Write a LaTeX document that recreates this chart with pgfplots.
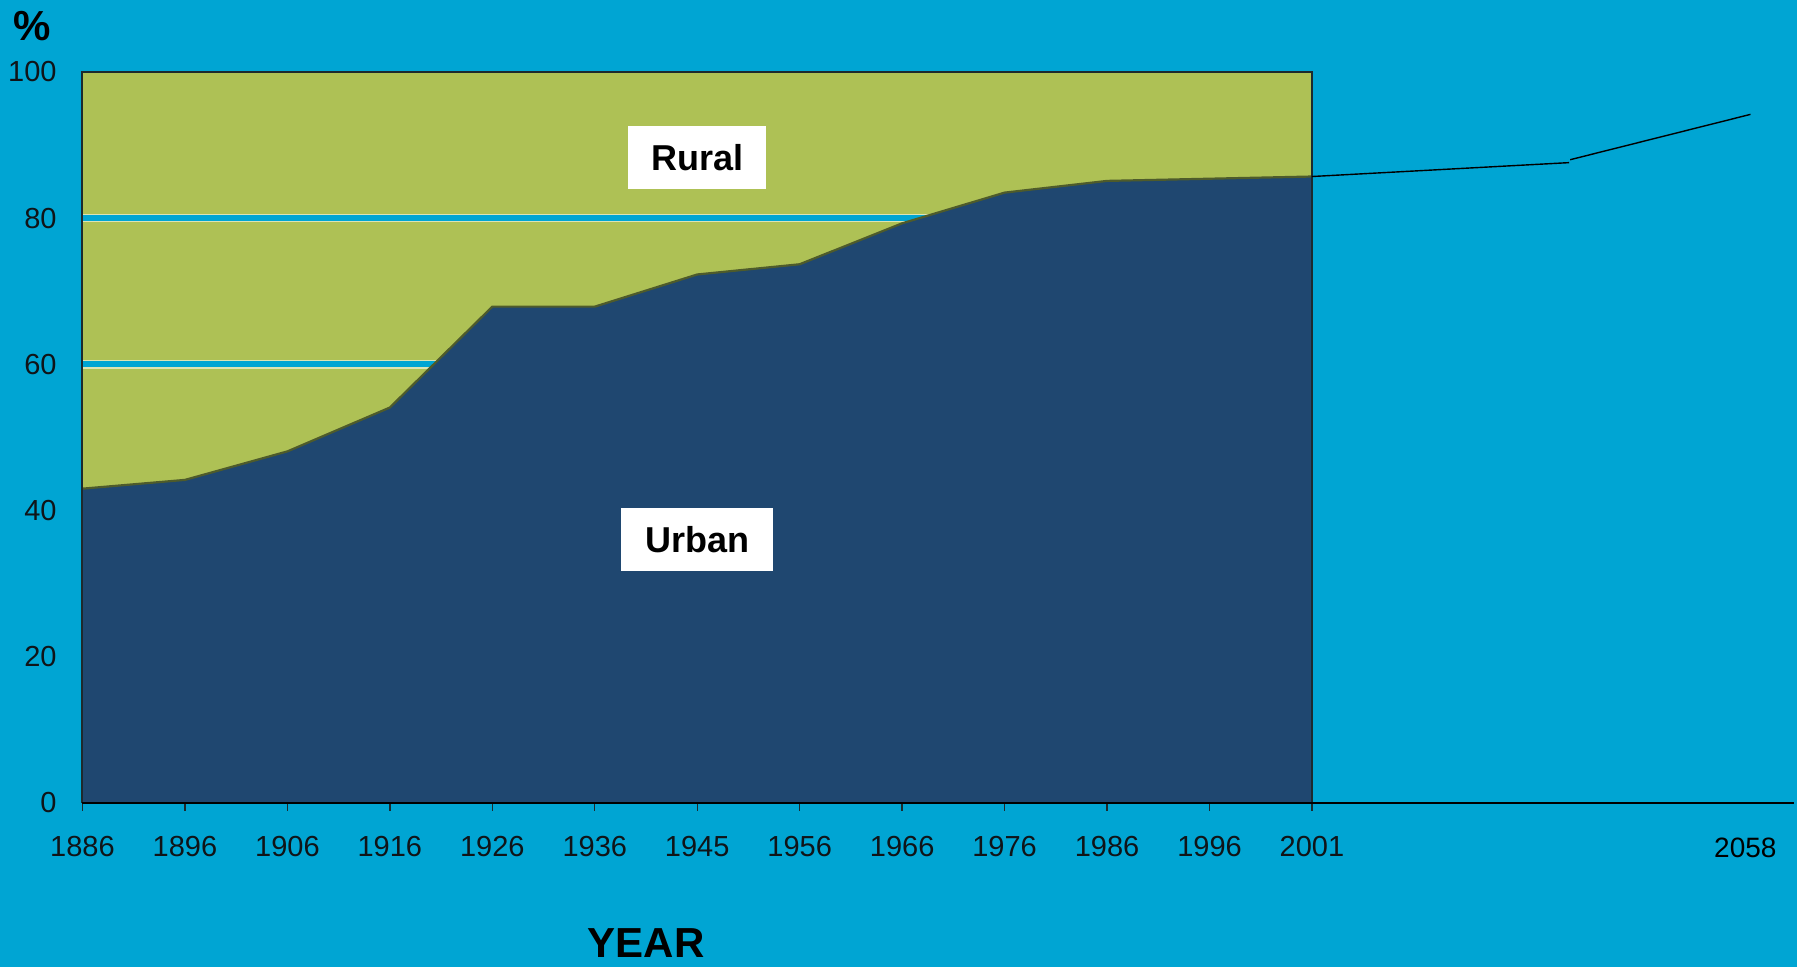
\documentclass[border=0pt]{standalone}
\usepackage{fontspec}
\setmainfont{Liberation Sans}
\usepackage{pgfplots}
\pgfplotsset{compat=1.18}
\usepackage{pgfplotstable}
\definecolor{bgblue}{HTML}{00A5D3}
\definecolor{rural}{HTML}{AEC155}
\definecolor{urban}{HTML}{1F4770}
\definecolor{edge}{HTML}{4E5B2B}
\definecolor{frame}{HTML}{1C2A2E}
\definecolor{gridlight}{HTML}{DCE4B4}
\definecolor{ticktext}{HTML}{101418}

\pgfplotstableread{
x y
0 43.0
1 44.2
2 48.1
3 54.1
4 67.9
5 67.9
6 72.3
7 73.7
8 79.3
9 83.5
10 85.1
11 85.4
12 85.7
}\urbandata

\begin{document}
\begin{tikzpicture}
\fill[bgblue, use as bounding box] (-41.25pt,-82pt) rectangle (857.25pt,401.5pt);
\begin{axis}[
  at={(0pt,0pt)}, anchor=south west,
  scale only axis, width=855.5pt, height=365.5pt,
  xmin=0, xmax=16.7, ymin=0, ymax=100,
  clip=false,
  axis line style={draw=none},
  xtick={0,...,12},
  xticklabels={1886,1896,1906,1916,1926,1936,1945,1956,1966,1976,1986,1996,2001},
  extra x ticks={16.23},
  extra x tick labels={2058},
  extra x tick style={major tick length=0pt, xticklabel style={text=black, yshift=-5pt, font=\fontsize{14}{16}\selectfont}},
  ytick={0,20,...,100},
  xtick pos=bottom, ytick pos=left,
  xtick align=outside,
  major tick length=4pt,
  xtick style={draw=frame, line width=0.7pt},
  ytick style={draw=none},
  tick label style={font=\fontsize{14.5}{17}\selectfont, text=ticktext},
  /pgf/number format/assume math mode=true,
  xticklabel style={anchor=north, inner sep=0pt, yshift=-12.5pt},
  yticklabel style={anchor=east, inner sep=0pt, xshift=-12.75pt},
]
% rural background region
\addplot[fill=rural, draw=none] coordinates {(0,0) (0,100) (12,100) (12,0)} \closedcycle;
% grid lines (visible only over rural area)
\addplot[draw=gridlight, double=bgblue, double distance=3pt, line width=0.6pt] coordinates {(0,60) (6,60)};
\addplot[draw=gridlight, double=bgblue, double distance=3pt, line width=0.6pt] coordinates {(0,80) (10,80)};
% urban area
\addplot[fill=urban, draw=none] table[x=x, y=y] {\urbandata} \closedcycle;
\addplot[draw=edge, line width=1.1pt] table[x=x, y=y] {\urbandata};
% frame
\addplot[draw=frame, line width=1pt] coordinates {(0,0) (0,100) (12,100) (12,0)};
% x axis line
\addplot[draw=black, line width=0.7pt] coordinates {(0,0) (16.7,0)};
% projection line
\addplot[draw=black, line width=0.7pt] coordinates {(12,85.7) (14.51,87.6)};
\addplot[draw=black, line width=0.7pt] coordinates {(14.52,88.0) (16.28,94.2)};
% labels
\node[fill=white, inner sep=0pt, minimum width=69pt, minimum height=31.5pt, font=\fontsize{18}{20}\selectfont\bfseries] at (axis cs:6,88.3) {Rural};
\node[fill=white, inner sep=0pt, minimum width=76pt, minimum height=31.5pt, font=\fontsize{18}{20}\selectfont\bfseries] at (axis cs:6,36.0) {Urban};
\node[font=\fontsize{21}{24}\selectfont\bfseries, anchor=center] at ([xshift=-25.25pt, yshift=23.1pt]rel axis cs:0,1) {\%};
\node[font=\fontsize{21}{24}\selectfont\bfseries, anchor=base, inner sep=0pt] at ([yshift=-77.5pt]axis cs:5.5,0) {YEAR};
\end{axis}
\end{tikzpicture}
\end{document}
